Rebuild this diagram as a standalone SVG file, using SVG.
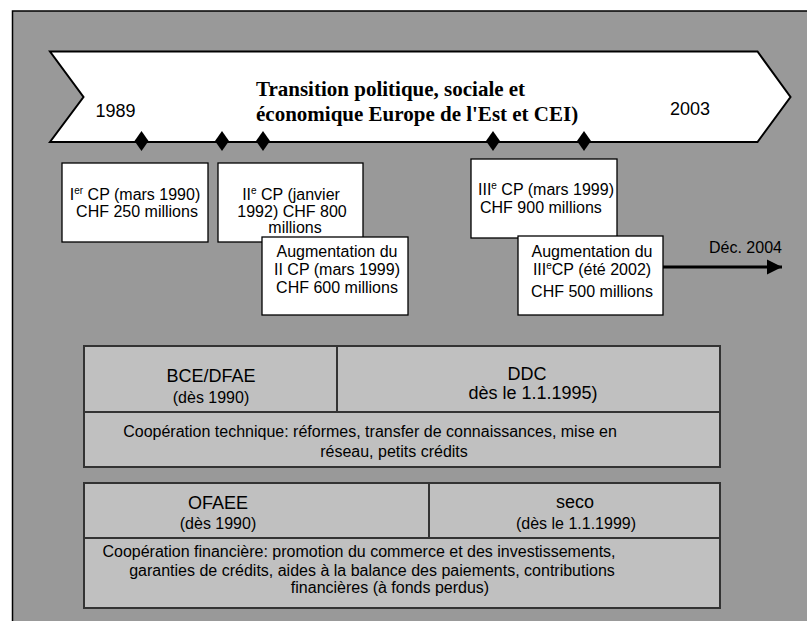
<svg xmlns="http://www.w3.org/2000/svg" width="807" height="621" viewBox="0 0 807 621">
<defs>
<style>
.t{font-family:"Liberation Sans",Arial,sans-serif;font-size:16px;fill:#000;text-anchor:middle}
.s{text-anchor:start}
.h{font-size:18px}
.yr{font-family:"Liberation Sans",Arial,sans-serif;font-size:18px;fill:#000}
.title{font-family:"Liberation Serif","Times New Roman",serif;font-size:21px;font-weight:bold;fill:#000}
.box{fill:#fff;stroke:#000;stroke-width:1.3}
.cell{fill:#c0c0c0;stroke:#333;stroke-width:2}
.dia{fill:#000}
.sup{font-size:10px}
</style>
<marker id="ah" viewBox="0 0 10 10" refX="10" refY="5" markerWidth="5" markerHeight="6" markerUnits="strokeWidth" orient="auto">
<path d="M0,0 L10,5 L0,10 Z" fill="#000"/>
</marker>
</defs>
<rect x="0" y="0" width="807" height="621" fill="#fff"/>
<rect id="frame" x="12.5" y="11" width="810" height="620" fill="#999999" stroke="#000" stroke-width="1.5"/>

<g id="timeline">
<polygon points="50,51.5 757.5,51.5 790.5,97 757.5,142 50,142 83.5,97" fill="#fff" stroke="#000" stroke-width="2"/>
<text class="yr" x="95.5" y="117">1989</text>
<text class="yr" x="670" y="115">2003</text>
<text class="title" x="256" y="96">Transition politique, sociale et</text>
<text class="title" x="256" y="121">économique Europe de l'Est et CEI)</text>
</g>

<g id="milestones">
<polygon class="dia" points="141.5,131 148.5,141 141.5,151 134.5,141"/>
<polygon class="dia" points="222,131 229,141 222,151 215,141"/>
<polygon class="dia" points="263,131 270,141 263,151 256,141"/>
<polygon class="dia" points="493,131 500,141 493,151 486,141"/>
<polygon class="dia" points="584,131 591,141 584,151 577,141"/>
</g>

<g id="cp1">
<rect class="box" x="62" y="163" width="146" height="79"/>
<text class="t" x="135" y="200">I<tspan class="sup" dy="-6">er</tspan><tspan dy="6"> CP (mars 1990)</tspan></text>
<text class="t" x="137" y="217">CHF 250 millions</text>
</g>

<g id="cp2">
<rect class="box" x="218" y="163" width="145" height="79"/>
<text class="t" x="291" y="200">II<tspan class="sup" dy="-6">e</tspan><tspan dy="6"> CP (janvier</tspan></text>
<text class="t" x="292" y="217">1992) CHF 800</text>
<text class="t" x="295" y="233">millions</text>
</g>

<g id="cp2aug">
<rect class="box" x="262" y="237" width="146" height="78"/>
<text class="t" x="337" y="257">Augmentation du</text>
<text class="t" x="337" y="275">II  CP (mars 1999)</text>
<text class="t" x="337" y="293">CHF 600 millions</text>
</g>

<g id="cp3">
<rect class="box" x="471" y="159" width="146" height="79"/>
<text class="t s" x="478" y="195">III<tspan class="sup" dy="-6">e</tspan><tspan dy="6"> CP (mars 1999)</tspan></text>
<text class="t s" x="480" y="213">CHF 900 millions</text>
</g>

<g id="cp3aug">
<rect class="box" x="518" y="236" width="145" height="79"/>
<text class="t" x="592" y="257">Augmentation du</text>
<text class="t" x="592" y="275">III<tspan class="sup" dy="-6">e</tspan><tspan dy="6">CP (été 2002)</tspan></text>
<text class="t" x="592" y="297">CHF 500 millions</text>
</g>

<g id="connectors">
<line x1="663" y1="267" x2="782" y2="267" stroke="#000" stroke-width="3" marker-end="url(#ah)"/>
</g>
<text class="t s" x="709" y="253">Déc. 2004</text>

<g id="technique">
<rect class="cell" x="84" y="346" width="253" height="66"/>
<rect class="cell" x="337" y="346" width="383" height="66"/>
<rect class="cell" x="84" y="412" width="636" height="55"/>
<text class="t h" x="211" y="382">BCE/DFAE</text>
<text class="t" x="211" y="403">(dès 1990)</text>
<text class="t h" x="527" y="380">DDC</text>
<text class="t h" x="533" y="399">dès le 1.1.1995)</text>
<text class="t" x="370" y="437">Coopération technique: réformes, transfer de connaissances, mise en</text>
<text class="t" x="394" y="457">réseau, petits crédits</text>
</g>

<g id="financiere">
<rect class="cell" x="84" y="483" width="345" height="55"/>
<rect class="cell" x="429" y="483" width="291" height="55"/>
<rect class="cell" x="84" y="538" width="636" height="70"/>
<text class="t h" x="218" y="509">OFAEE</text>
<text class="t" x="218" y="529">(dès 1990)</text>
<text class="t h" x="575" y="508">seco</text>
<text class="t" x="576" y="529">(dès le 1.1.1999)</text>
<text class="t" x="359" y="557">Coopération financière: promotion du commerce et des investissements,</text>
<text class="t" x="372" y="576">garanties de crédits, aides à la balance des paiements, contributions</text>
<text class="t" x="390" y="593">financières (à fonds perdus)</text>
</g>
</svg>
